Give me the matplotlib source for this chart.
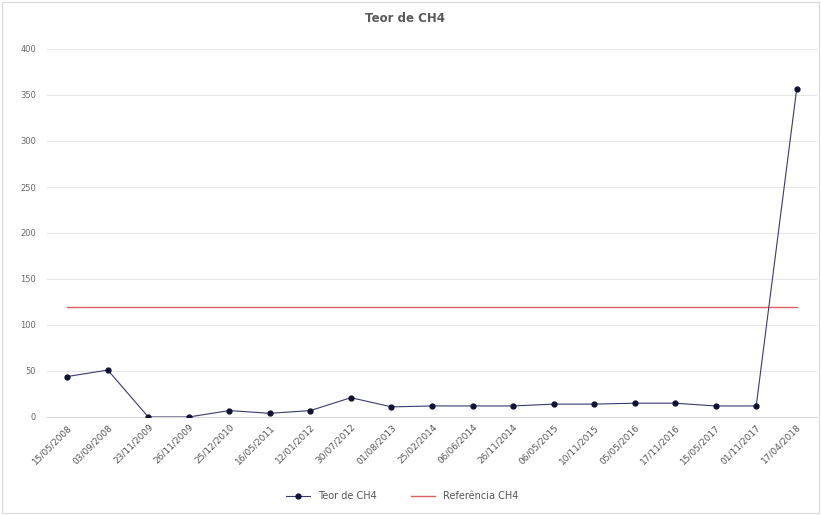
import matplotlib.pyplot as plt
import numpy as np

datas = ['15/05/2008', '03/09/2008', '23/11/2009', '26/11/2009', '25/12/2010',
         '16/05/2011', '12/01/2012', '30/07/2012', '01/08/2013', '25/02/2014',
         '06/06/2014', '26/11/2014', '06/05/2015', '10/11/2015', '05/05/2016',
         '17/11/2016', '15/05/2017', '01/11/2017', '17/04/2018']
teor_ch4 = [44, 51, 0, 0, 7, 4, 7, 21, 11, 12, 12, 12, 14, 14, 15, 15, 12, 12, 357]
referencia_ch4 = [120] * len(datas)
y_ticks = [0, 50, 100, 150, 200, 250, 300, 350, 400]

fig = plt.figure(figsize=(8.21, 5.15), dpi=100)
ax = fig.add_axes([47 / 821, 1 - 417 / 515, 770 / 821, 368 / 515])

x = np.arange(len(datas))
ax.plot(x, teor_ch4, '-o', color='#3a3a6e', lw=0.8, ms=3.5,
        markerfacecolor='#111133', markeredgecolor='#111133', label='Teor de CH4', zorder=3)
ax.plot(x, referencia_ch4, '-', color='#e06060', lw=1.0, label='Referência CH4', zorder=2)

ax.set_xlim(-0.5, len(datas) - 0.5)
ax.set_ylim(0, 400)
ax.set_yticks(y_ticks)
ax.set_xticks(x)
ax.set_xticklabels(datas, rotation=45, ha='right', rotation_mode='anchor',
                   fontsize=6.5, color='#555555')
ax.tick_params(axis='y', labelsize=6, colors='#666666', length=0, pad=8)
ax.tick_params(axis='x', length=0, pad=4)
ax.grid(axis='y', color='#e6e6e6', lw=0.8)
ax.set_axisbelow(True)
for s in ['top', 'right', 'left']:
    ax.spines[s].set_visible(False)
ax.spines['bottom'].set_color('#d9d9d9')

fig.text(0.493, 1 - 18 / 515, 'Teor de CH4', ha='center', va='center',
         fontsize=8.5, fontweight='bold', color='#595959')

fig.legend(loc='center', bbox_to_anchor=(0.49, 1 - 496 / 515), ncol=2,
           frameon=False, fontsize=7, handlelength=2.5, columnspacing=3.5,
           labelcolor='#555555')

fig.patches.append(plt.Rectangle((0.002, 0.003), 0.996, 0.994, transform=fig.transFigure,
                                 fill=False, edgecolor='#d9d9d9', lw=0.8))

plt.savefig('out.png', dpi=100)
